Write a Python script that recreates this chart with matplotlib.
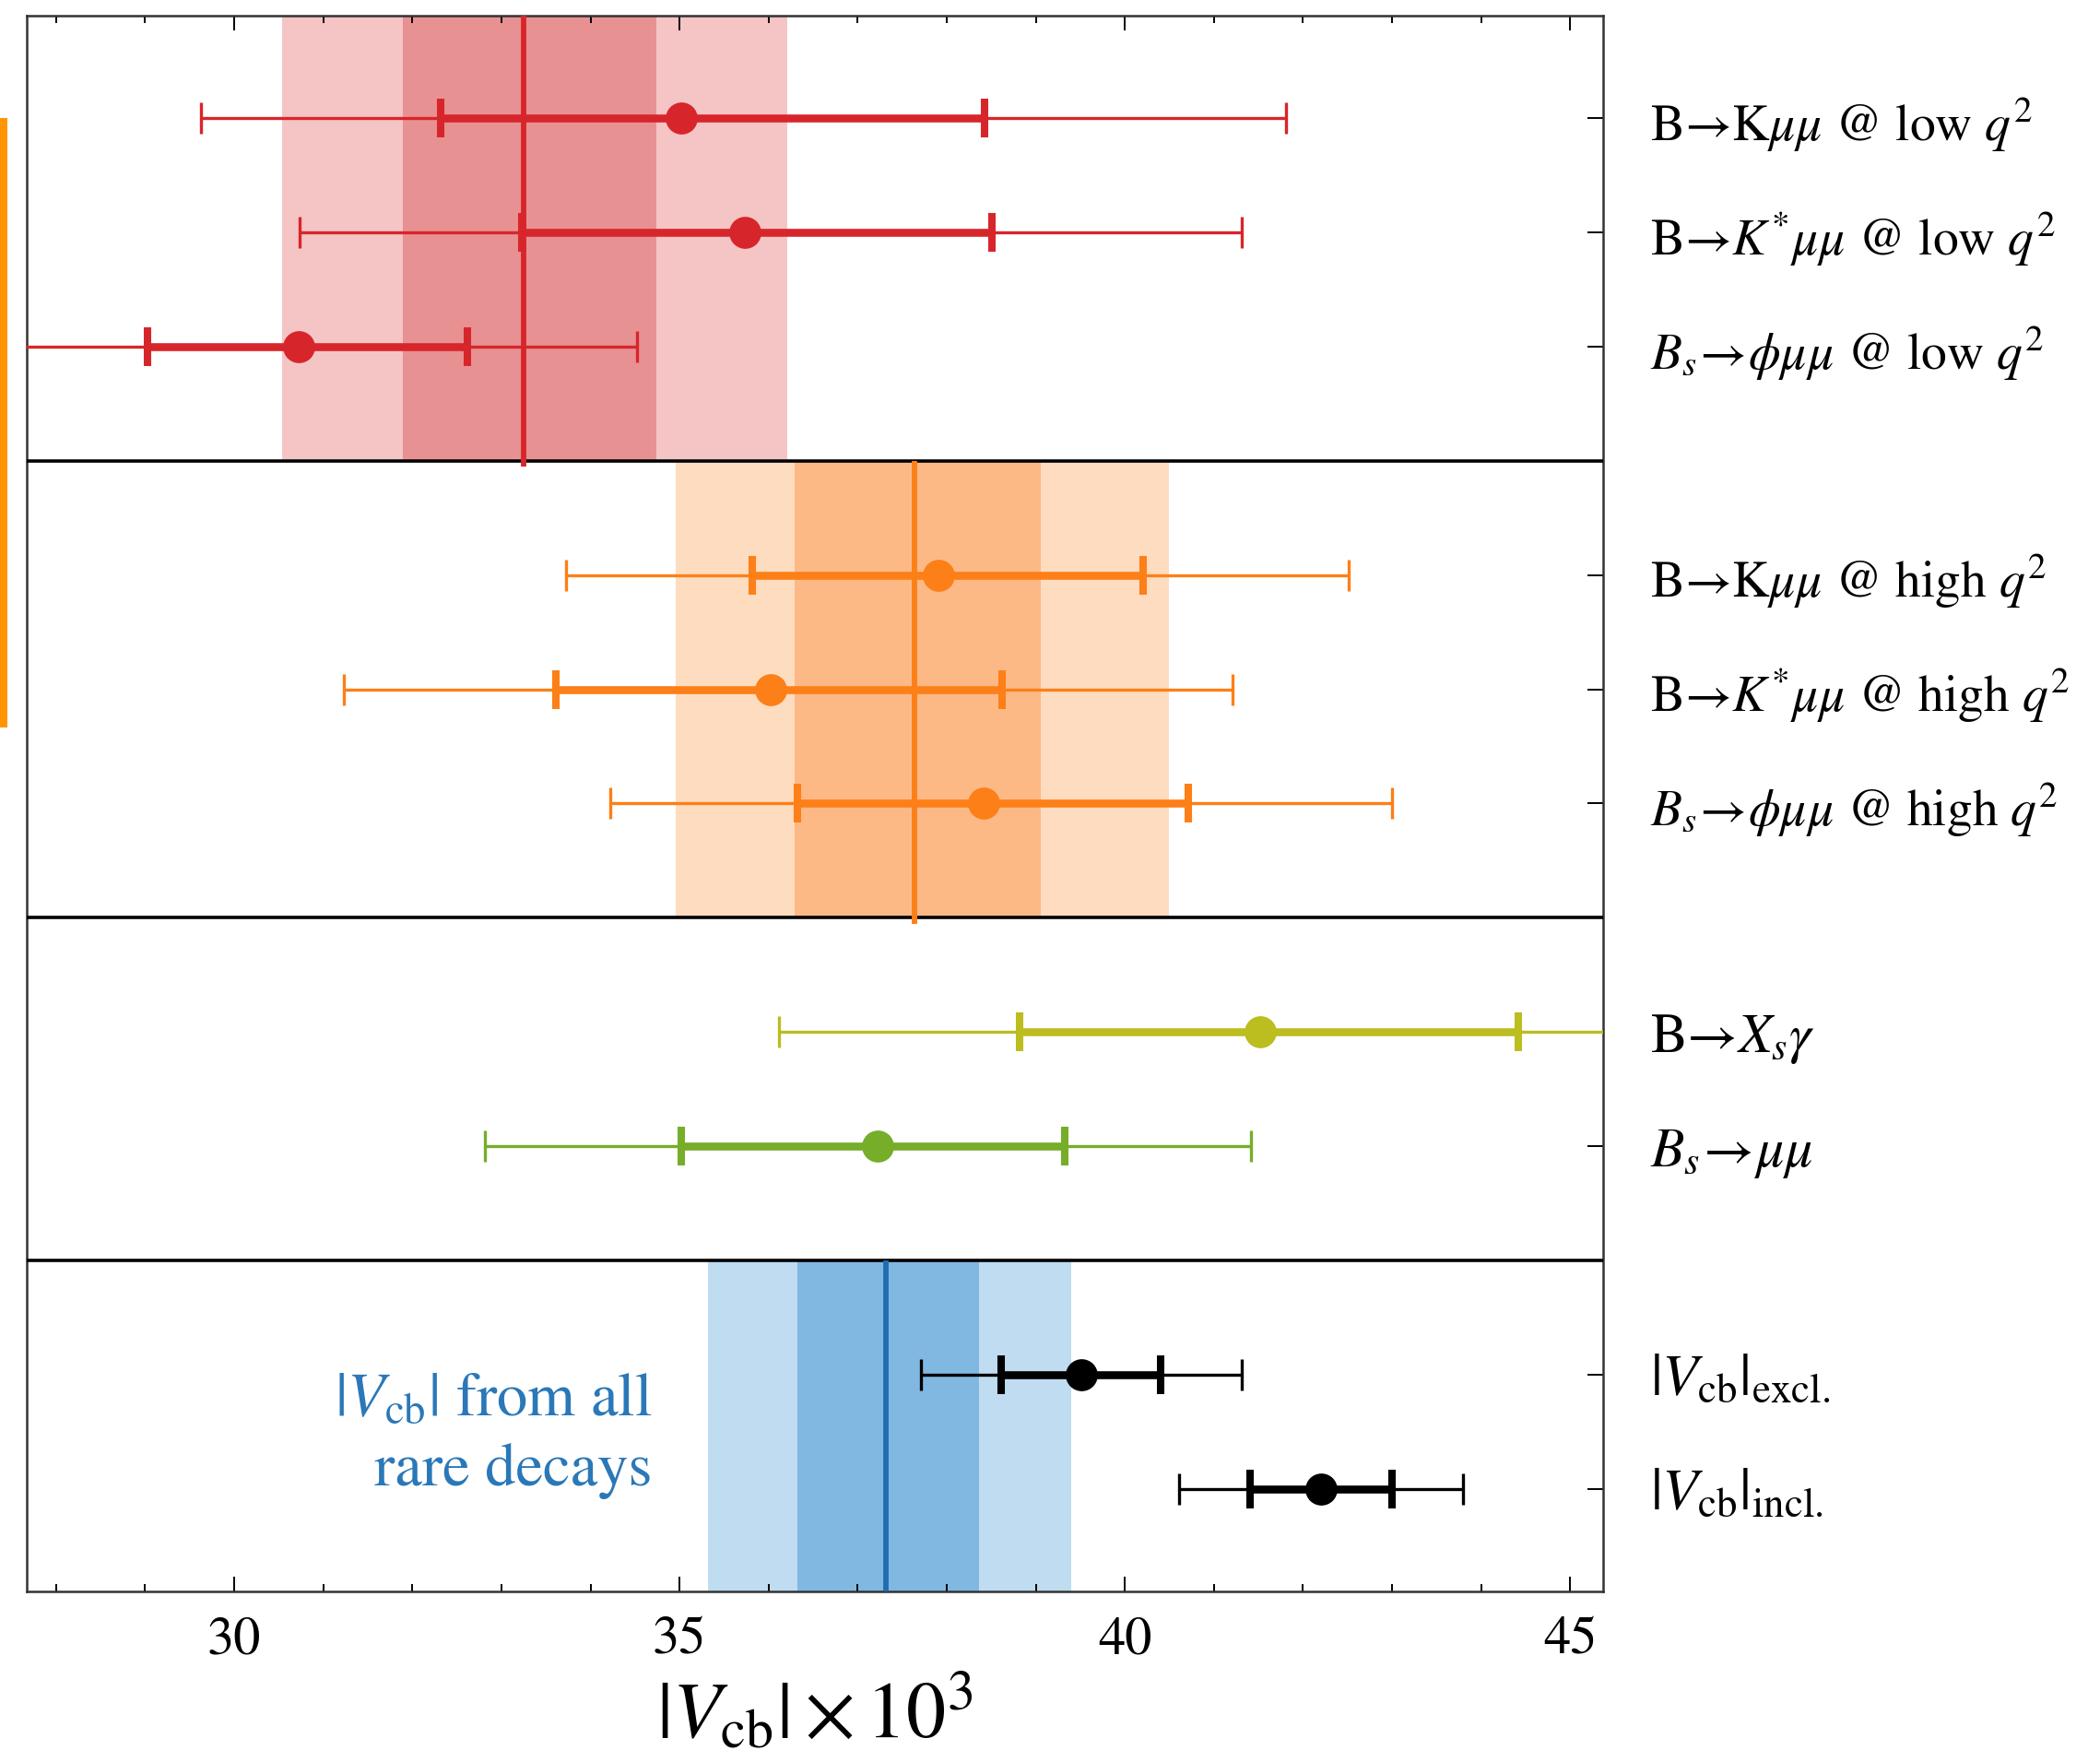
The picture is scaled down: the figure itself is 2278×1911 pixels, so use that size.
import matplotlib
matplotlib.use("Agg")
import matplotlib.pyplot as plt
import matplotlib.patches as patches
from matplotlib.ticker import MultipleLocator

plt.rcParams['font.family'] = ['STIXGeneral', 'DejaVu Serif']
plt.rcParams['mathtext.fontset'] = 'stix'

# rows (top to bottom) and their labels
rows = [1, 2, 3, 5, 6, 7, 9, 10, 12, 13]
labels = [
    r"B→K$\mu\mu$ @ low $q^2$",
    r"B→$K^{*}\mu\mu$ @ low $q^2$",
    r"$B_s\!\rightarrow\!\phi\mu\mu$ @ low $q^2$",
    r"B→K$\mu\mu$ @ high $q^2$",
    r"B→$K^{*}\mu\mu$ @ high $q^2$",
    r"$B_s\!\rightarrow\!\phi\mu\mu$ @ high $q^2$",
    r"B→$X_s\gamma$",
    r"$B_s\!\rightarrow\!\mu\mu$",
    r"$|V_{\rm cb}|_{\rm excl.}$",
    r"$|V_{\rm cb}|_{\rm incl.}$",
]
label_sizes = [40, 40, 40, 40, 40, 40, 43, 43, 46, 46]

# |Vcb| x 10^3 values: central, inner (thick) and outer (thin) intervals
central = [35.02, 35.73, 30.72, 37.91, 36.02, 38.41, 41.52, 37.22, 39.51, 42.20]
inner_lo = [32.32, 33.23, 29.03, 35.82, 33.61, 36.32, 38.82, 35.02, 38.61, 41.41]
inner_hi = [38.42, 38.51, 32.62, 40.21, 38.62, 40.71, 44.42, 39.32, 40.40, 43.00]
outer_lo = [29.63, 30.73, 27.10, 33.73, 31.23, 34.22, 36.12, 32.81, 37.71, 40.61]
outer_hi = [41.81, 41.31, 34.52, 42.51, 41.21, 43.00, 46.90, 41.42, 41.31, 43.80]
colors = ['#d7262b'] * 3 + ['#fd7f17'] * 3 + ['#bcbd1f', '#76ad29', 'black', 'black']

# combined fits: (y range, central, inner band, outer band, colours)
fit_ranges = [(0.1, 4.0), (4.0, 8.0), (11.0, 13.9)]
fit_central = [33.25, 37.64, 37.32]
fit_inner = [(31.89, 34.74), (36.29, 39.06), (36.32, 38.36)]
fit_outer = [(30.54, 36.21), (34.96, 40.49), (35.32, 39.40)]
fit_line = ['#d7262b', '#fd7f17', '#1f6db0']
fit_dark = ['#e89192', '#fcb986', '#81b8e2']
fit_light = ['#f5c4c4', '#fddcc0', '#bfdcf0']
separators = [4, 8, 11]

fig = plt.figure(figsize=(22.78, 19.11), dpi=100)
ax = fig.add_axes([0.01273, 0.09681, 0.75066, 0.89430])

for (y0, y1), c, inn, out, lc, dc, lgt in zip(fit_ranges, fit_central, fit_inner,
                                              fit_outer, fit_line, fit_dark, fit_light):
    ax.fill_betweenx([y0, y1], out[0], out[1], color=lgt, lw=0, zorder=1)
    ax.fill_betweenx([y0, y1], inn[0], inn[1], color=dc, lw=0, zorder=1)
    ax.vlines(c, y0, y1 + 0.05, color=lc, lw=4.2, zorder=4)

for s in separators:
    ax.axhline(s, color='black', lw=2.6, zorder=3)

for y, c, ilo, ihi, olo, ohi, col in zip(rows, central, inner_lo, inner_hi,
                                         outer_lo, outer_hi, colors):
    ax.errorbar([c], [y], xerr=[[c - olo], [ohi - c]], fmt='none', ecolor=col,
                elinewidth=2.4, capsize=12, capthick=2.4, zorder=5)
    ax.errorbar([c], [y], xerr=[[c - ilo], [ihi - c]], fmt='none', ecolor=col,
                elinewidth=6.2, capsize=15, capthick=5.8, zorder=6)
    ax.plot([c], [y], 'o', color=col, ms=25, mew=0, zorder=7)

# va='baseline' puts the last line's baseline at y
ax.text(34.69, 12.97, r"$|V_{\rm cb}|$ from all" + "\nrare decays", color='#2a78b8',
        fontsize=48, ha='right', va='baseline', multialignment='right',
        linespacing=1.33, zorder=8)

ax.set_xlim(27.67, 45.37)
ax.set_ylim(13.9, 0.1)

ax.xaxis.set_major_locator(MultipleLocator(5))
ax.xaxis.set_minor_locator(MultipleLocator(1))
ax.tick_params(axis='x', which='both', direction='in', top=True, bottom=True,
               labelsize=42, pad=20, width=1.4)
ax.tick_params(axis='x', which='major', length=11.5)
ax.tick_params(axis='x', which='minor', length=5.8)

ax.set_yticks(rows, labels)
ax.yaxis.tick_right()
ax.tick_params(axis='y', which='both', direction='in', left=False, right=True,
               length=12, width=1.4, pad=37)
ax.yaxis.set_minor_locator(plt.NullLocator())
for lbl, size in zip(ax.get_yticklabels(), label_sizes):
    lbl.set_fontsize(size)

for sp in ax.spines.values():
    sp.set_linewidth(1.8)
    sp.set_color('#333333')

ax.set_xlabel(r"$|V_{\rm cb}|\times 10^3$", fontsize=62, labelpad=6)

fig.add_artist(patches.Rectangle((0, 0.587), 0.0035, 0.346, transform=fig.transFigure,
                                 facecolor='#ff9500', edgecolor='none'))

fig.savefig("out.png", dpi=100)
